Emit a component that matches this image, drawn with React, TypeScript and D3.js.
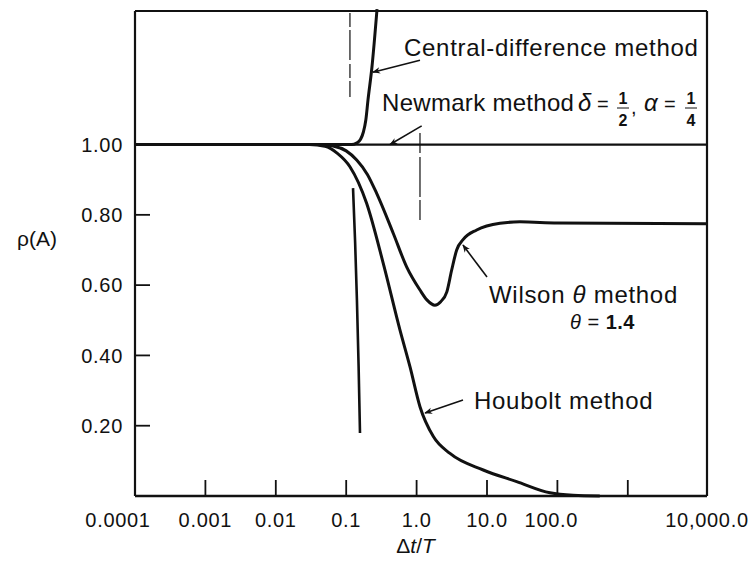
import React from 'react';
import * as d3 from 'd3';

// axis extent (right frame sits a bit past 10,000)
const xMin = 0.0001;
const xMax = 13335;
const yMax = 1.38;

const xTicks = [0.0001, 0.001, 0.01, 0.1, 1, 10, 100, 1000];
const xTickLabels = ['0.0001', '0.001', '0.01', '0.1', '1.0', '10.0', '100.0', ''];
const xEndLabel = '10,000.0';
const yTicks = [0.2, 0.4, 0.6, 0.8, 1.0];
const yTickLabels = ['0.20', '0.40', '0.60', '0.80', '1.00'];

// spectral radius curves
const centralDt = [0.0001, 0.1, 0.12, 0.14, 0.16, 0.175, 0.19, 0.204, 0.232, 0.274];
const centralRho = [1, 1, 1.0, 1.004, 1.015, 1.035, 1.07, 1.127, 1.22, 1.385];

const newmarkDt = [0.0001, 13335];
const newmarkRho = [1, 1];

const wilsonDt = [0.0001, 0.04, 0.065, 0.1, 0.141, 0.2, 0.271, 0.467, 0.722, 1.117, 1.4, 1.82, 2.2, 2.68, 3.15, 3.71, 4.6, 7.14, 15.3, 29.4, 100, 13335];
const wilsonRho = [1, 1, 0.996, 0.982, 0.956, 0.915, 0.861, 0.747, 0.652, 0.586, 0.558, 0.543, 0.553, 0.58, 0.643, 0.7, 0.73, 0.757, 0.776, 0.78, 0.777, 0.775];

const houboltDt = [0.0001, 0.03, 0.05, 0.075, 0.113, 0.195, 0.336, 0.581, 0.805, 1.117, 1.73, 2.98, 8.85, 26.4, 78.5, 167, 400];
const houboltRho = [1, 1, 0.995, 0.975, 0.937, 0.833, 0.662, 0.472, 0.368, 0.254, 0.169, 0.121, 0.074, 0.041, 0.009, 0.002, 0];

// the heavy stray stroke near 0.1 and two faint scan marks
const strayDt = [0.125, 0.134, 0.142, 0.15, 0.157];
const strayRho = [0.876, 0.72, 0.558, 0.37, 0.179];
const markADt = [0.113, 0.113];
const markARho = [1.374, 1.135];
const markBDt = [1.117, 1.117];
const markBRho = [1.033, 0.785];

const font = '"Liberation Sans", Arial, Helvetica, sans-serif';

function App() {
    const x = d3.scaleLog().domain([xMin, xMax]).range([135, 707]);
    const y = d3.scaleLinear().domain([0, yMax]).range([496, 11]);

    const line = d3
        .line<[number, number]>()
        .x(d => x(d[0]))
        .y(d => y(d[1]))
        .curve(d3.curveMonotoneX);
    const straight = d3
        .line<[number, number]>()
        .x(d => x(d[0]))
        .y(d => y(d[1]));

    const pts = (a: number[], b: number[]) => a.map((v, i) => [v, b[i]] as [number, number]);

    // arrows: [tailDt, tailRho, tipDt, tipRho]
    const arrows = [
        [1.117, 1.24, 0.24, 1.206],
        [1.18, 1.053, 0.419, 1.0],
        [10, 0.623, 4.56, 0.714],
        [4.56, 0.273, 1.316, 0.236],
    ];

    const x0 = x(xMin);
    const x1 = x(xMax);
    const y0 = y(0);
    const yTop = y(yMax);

    return (
        <svg
            width={755}
            height={563}
            style={{ position: 'absolute', left: 0, top: 0, background: '#fff' }}
            fontFamily={font}
        >
            <defs>
                <marker id="ah" viewBox="0 0 10 10" refX="9" refY="5" markerWidth="11" markerHeight="8" orient="auto" markerUnits="userSpaceOnUse">
                    <path d="M0,1 L10,5 L0,9 L3,5 Z" fill="#111" />
                </marker>
            </defs>

            {/* frame */}
            <line x1={x0} y1={yTop} x2={x1} y2={yTop} stroke="#111" strokeWidth={2} />
            <line x1={x0} y1={yTop} x2={x0} y2={y0} stroke="#111" strokeWidth={2.2} />
            <line x1={x1} y1={yTop} x2={x1} y2={y0} stroke="#111" strokeWidth={2.2} />
            <line x1={x0} y1={y0} x2={x1} y2={y0} stroke="#111" strokeWidth={2.5} />

            {/* y ticks */}
            {yTicks.map((t, i) => (
                <g key={i} transform={`translate(0, ${y(t)})`}>
                    <line x1={x0} x2={x0 + 15} stroke="#111" strokeWidth={1.8} />
                    <text x={x0 - 12} dy="0.36em" textAnchor="end" fontSize={20} letterSpacing={0.7} fill="#111">
                        {yTickLabels[i]}
                    </text>
                </g>
            ))}

            {/* x ticks */}
            {xTicks.map((t, i) => (
                <g key={i} transform={`translate(${x(t)}, 0)`}>
                    {i > 0 && <line y1={y0} y2={y0 - 16} stroke="#111" strokeWidth={1.8} />}
                    <text
                        x={i === 0 ? -17 : i === 6 ? -6 : 0}
                        y={y0 + 31}
                        textAnchor="middle"
                        fontSize={20}
                        letterSpacing={0.7}
                        fill="#111"
                    >
                        {xTickLabels[i]}
                    </text>
                </g>
            ))}
            <text x={x1} y={y0 + 31} textAnchor="middle" fontSize={20} letterSpacing={0.7} fill="#111">
                {xEndLabel}
            </text>

            {/* axis titles */}
            <text x={x(1) - 1} y={553} textAnchor="middle" fontSize={21} fill="#111">
                Δ<tspan fontStyle="italic">t</tspan>/<tspan fontStyle="italic">T</tspan>
            </text>
            <text x={57} y={246} textAnchor="end" fontSize={21} fill="#111">
                ρ(A)
            </text>

            {/* scan marks */}
            <path d={straight(pts(markADt, markARho)) || ''} stroke="#333" strokeWidth={1.4} strokeDasharray="14 3 30 4" fill="none" />
            <path d={straight(pts(markBDt, markBRho)) || ''} stroke="#333" strokeWidth={1.4} strokeDasharray="20 4 40 3" fill="none" />
            <path d={line(pts(strayDt, strayRho)) || ''} stroke="#111" strokeWidth={2.6} fill="none" />

            {/* curves */}
            <path d={straight(pts(newmarkDt, newmarkRho)) || ''} stroke="#111" strokeWidth={2.2} fill="none" />
            <path d={line(pts(centralDt, centralRho)) || ''} stroke="#111" strokeWidth={3} fill="none" />
            <path d={line(pts(wilsonDt, wilsonRho)) || ''} stroke="#111" strokeWidth={3} fill="none" />
            <path d={line(pts(houboltDt, houboltRho)) || ''} stroke="#111" strokeWidth={3} fill="none" />

            {/* leader arrows */}
            {arrows.map((a, i) => (
                <line
                    key={i}
                    x1={x(a[0])}
                    y1={y(a[1])}
                    x2={x(a[2])}
                    y2={y(a[3])}
                    stroke="#111"
                    strokeWidth={1.6}
                    markerEnd="url(#ah)"
                />
            ))}

            {/* labels */}
            <text x={404} y={56} fontSize={24} letterSpacing={0.7} fill="#111">
                Central-difference method
            </text>

            <text x={382} y={111} fontSize={24} letterSpacing={0.3} fill="#111">
                Newmark method
            </text>
            <text x={578} y={111} fontSize={24} fontStyle="italic" fill="#111">δ</text>
            <text x={597} y={111} fontSize={20} fill="#111">=</text>
            <text x={623} y={104} fontSize={16} fontWeight="bold" textAnchor="middle" fill="#111">1</text>
            <line x1={617} x2={629} y1={108} y2={108} stroke="#111" strokeWidth={1} />
            <text x={623} y={126} fontSize={16} fontWeight="bold" textAnchor="middle" fill="#111">2</text>
            <text x={631} y={114} fontSize={20} fill="#111">,</text>
            <text x={644} y={111} fontSize={24} fontStyle="italic" fill="#111">α</text>
            <text x={664} y={111} fontSize={20} fill="#111">=</text>
            <text x={691} y={104} fontSize={16} fontWeight="bold" textAnchor="middle" fill="#111">1</text>
            <line x1={685} x2={697} y1={108} y2={108} stroke="#111" strokeWidth={1} />
            <text x={691} y={126} fontSize={16} fontWeight="bold" textAnchor="middle" fill="#111">4</text>

            <text x={489} y={303} fontSize={24} letterSpacing={0.7} fill="#111">
                Wilson <tspan fontStyle="italic">θ</tspan> method
            </text>
            <text x={570} y={329} fontSize={20} letterSpacing={0.5} fill="#111">
                <tspan fontStyle="italic">θ</tspan> = <tspan fontWeight="bold">1.4</tspan>
            </text>

            <text x={474} y={409} fontSize={24} letterSpacing={0.7} fill="#111">
                Houbolt method
            </text>
        </svg>
    );
}

export default App;
